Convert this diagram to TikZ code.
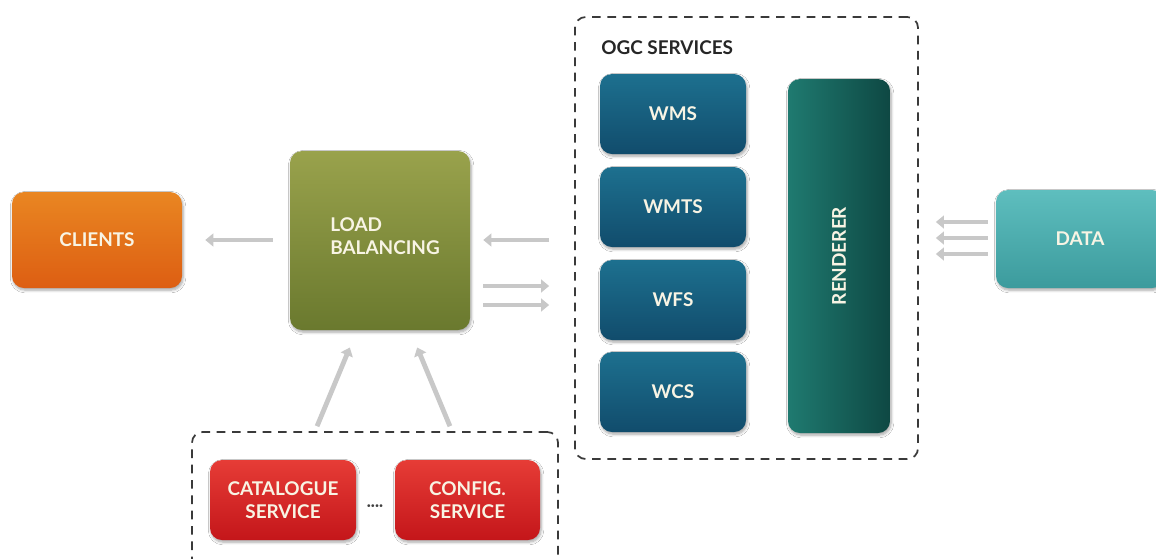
\documentclass[tikz,border=0pt]{standalone}
\usepackage{fontspec}
\setmainfont{Lato}
\usetikzlibrary{arrows.meta,shadows.blur}
\definecolor{arrowgray}{HTML}{C8C8C8}
\definecolor{dashgray}{HTML}{3A3A3A}
\definecolor{labelwhite}{HTML}{F8F4E4}
\tikzset{
  labelfont/.style={font=\fontsize{14.2}{17}\selectfont\bfseries},
  box/.style={rounded corners=9pt, inner sep=0pt, align=center, text=labelwhite, labelfont,
    blur shadow={shadow xshift=0.8pt, shadow yshift=-1.6pt, shadow blur steps=6, shadow opacity=35}},
  clientbox/.style={box, top color={rgb,255:red,233;green,134;blue,34}, bottom color={rgb,255:red,221;green,94;blue,18}},
  lbbox/.style={box, top color={rgb,255:red,153;green,162;blue,76}, bottom color={rgb,255:red,106;green,121;blue,46}},
  ogcbox/.style={box, top color={rgb,255:red,29;green,112;blue,143}, bottom color={rgb,255:red,17;green,76;blue,108}},
  renderbox/.style={box, left color={rgb,255:red,31;green,122;blue,112}, right color={rgb,255:red,14;green,72;blue,67}},
  databox/.style={box, top color={rgb,255:red,94;green,190;blue,190}, bottom color={rgb,255:red,60;green,155;blue,157}},
  svcbox/.style={box, top color={rgb,255:red,230;green,60;blue,54}, bottom color={rgb,255:red,196;green,22;blue,26}},
  group/.style={draw=dashgray, line width=1.3pt, dash pattern=on 6.5pt off 5pt, rounded corners=8pt},
  flow/.style={draw=arrowgray, line width=3.6pt, -{Triangle[width=9.5pt,length=6pt]}}
}
\begin{document}
\begin{tikzpicture}[x=0.75pt,y=-0.75pt]
\clip (0,0) rectangle (1156,558);
\fill[white] (0,0) rectangle (1156,558);

% groups
\node[group, minimum width=257.25pt, minimum height=331.5pt, inner sep=0pt] (ogc) at (746.5,238) {};
\node[group, minimum width=274.5pt, minimum height=120pt, inner sep=0pt] (infra) at (375,512) {};
\node[anchor=base west, labelfont, text=black!85, inner sep=0pt] (ogctitle) at (601,54) {OGC SERVICES};

% boxes
\node[clientbox, minimum width=127.5pt, minimum height=72pt] (clients) at (97,240) {CLIENTS};
\node[lbbox, minimum width=135pt, minimum height=134.25pt] (lb) at (380,240.5) {};
\node[labelfont, text=labelwhite, align=left, anchor=west, inner sep=0pt] (lbtext) at (330,236) {LOAD\\BALANCING};
\node[ogcbox, minimum width=109.5pt, minimum height=60pt] (wms) at (673,114) {WMS};
\node[ogcbox, minimum width=109.5pt, minimum height=60pt] (wmts) at (673,207) {WMTS};
\node[ogcbox, minimum width=109.5pt, minimum height=60pt] (wfs) at (673,300) {WFS};
\node[ogcbox, minimum width=109.5pt, minimum height=60pt] (wcs) at (673,392) {WCS};
\node[renderbox, minimum width=76.5pt, minimum height=265.5pt] (renderer) at (839,256) {};
\node[rotate=90, text=labelwhite, labelfont] (rendertext) at (839,256) {RENDERER};
\node[databox, minimum width=126pt, minimum height=73.5pt] (data) at (1080,239) {DATA};
\node[svcbox, minimum width=109.5pt, minimum height=60pt] (cat) at (283,500) {CATALOGUE\\SERVICE};
\node[svcbox, minimum width=108.75pt, minimum height=60pt] (conf) at (467.5,500) {CONFIG.\\SERVICE};
\node[font=\fontsize{11}{11}\selectfont\bfseries, text=black!75, inner sep=0pt] (dots) at (375,508) {····};

% connectors
\draw[flow, shorten <=12.75pt, shorten >=17.25pt] (lb.west |- 0,240) -- (clients.east);
\draw[flow, shorten <=18.75pt, shorten >=9.75pt] (ogc.west |- 0,240) -- (lb.east |- 0,240);
\draw[flow, shorten <=9.75pt, shorten >=18.75pt] (lb.east |- 0,286) -- (ogc.west |- 0,286);
\draw[flow, shorten <=9.75pt, shorten >=18.75pt] (lb.east |- 0,305) -- (ogc.west |- 0,305);
\draw[flow, shorten <=6pt, shorten >=12.75pt] (data.west |- 0,222) -- (ogc.east |- 0,222);
\draw[flow, shorten <=6pt, shorten >=12.75pt] (data.west |- 0,238) -- (ogc.east |- 0,238);
\draw[flow, shorten <=6pt, shorten >=12.75pt] (data.west |- 0,254) -- (ogc.east |- 0,254);
\draw[flow, shorten <=4pt, shorten >=14pt] (infra.north -| 315,0) -- (lb.south -| 357,0);
\draw[flow, shorten <=4pt, shorten >=14pt] (infra.north -| 452,0) -- (lb.south -| 410,0);
\end{tikzpicture}
\end{document}
